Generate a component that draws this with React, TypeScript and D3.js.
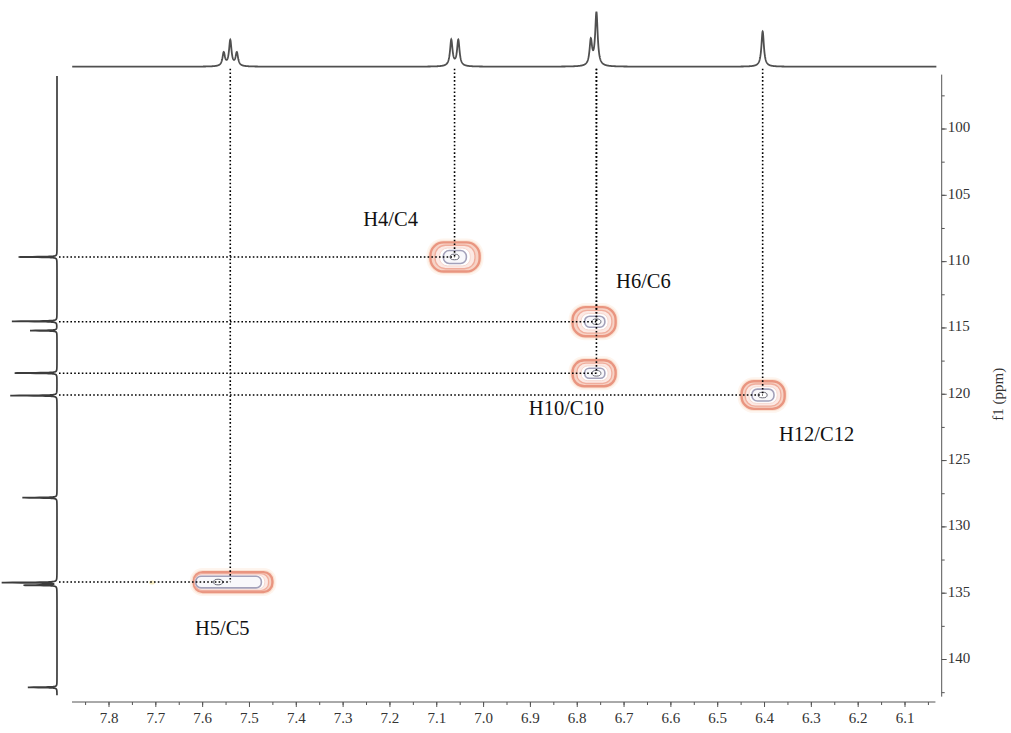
import React from "react";
import * as d3 from "d3";

// ---- axis ticks ----
const xTickValues = [7.8, 7.7, 7.6, 7.5, 7.4, 7.3, 7.2, 7.1, 7.0, 6.9, 6.8, 6.7, 6.6, 6.5, 6.4, 6.3, 6.2, 6.1];
const yTickValues = [100, 105, 110, 115, 120, 125, 130, 135, 140];
const xDomain = [7.879, 6.035];
const yDomain = [95.9, 142.8];

// ---- 1H projection (F2) peak list ----
const hPeakPpm = [7.555, 7.541, 7.527, 7.069, 7.054, 6.771, 6.759, 6.404];
const hPeakHeight = [25, 48, 25, 49, 49, 47, 100, 66];

// ---- 13C projection (F1) peak list ----
const cPeakPpm = [109.65, 114.5, 115.2, 118.4, 120.1, 127.8, 134.2, 134.4, 142.1];
const cPeakHeight = [70, 82, 49, 77, 85, 63, 100, 60, 53];

// ---- HSQC cross peaks ----
const crossLabels = ["H4/C4", "H6/C6", "H10/C10", "H12/C12", "H5/C5"];
const crossH = [7.062, 6.759, 6.759, 6.404, 7.541];
const crossC = [109.65, 114.53, 118.42, 120.06, 134.16];
// contour extents (ppm), outer and innermost level, and contour centre / maximum
const contourCenterH = [7.061, 6.764, 6.764, 6.403, 7.535];
const contourMaxH = [7.062, 6.759, 6.759, 6.404, 7.567];
const outerSpanH = [0.105, 0.092, 0.092, 0.092, 0.168];
const outerSpanC = [2.2, 2.2, 1.96, 2.08, 1.5];
const innerSpanH = [0.049, 0.043, 0.043, 0.047, 0.14];
const innerSpanC = [0.98, 0.83, 0.75, 0.9, 0.88];
const labelDx = [-64, 47, -30, 54, -8];
const labelDy = [-36, -38, 37, 41, 48];

const W = 1011;
const H = 733;

const x = d3.scaleLinear().domain([7.8, 6.1]).range([109, 905]);
const y = d3.scaleLinear().domain([100, 140]).range([129, 659.5]);
const topI = d3.scaleLinear().domain([0, 100]).range([66.7, 13.3]);
const leftI = d3.scaleLinear().domain([0, 100]).range([57, 2]);

const lor = (v: number, c: number, h: number, w: number) => (h * w * w) / ((v - c) * (v - c) + w * w);

function hSpectrum() {
  const wH = 0.0032;
  const grid = d3.range(xDomain[1] - 0.002, xDomain[0], 0.0004).concat(hPeakPpm).sort((a, b) => b - a);
  const pts: [number, number][] = grid.map((p) => {
    let s = 0;
    hPeakPpm.forEach((c, i) => (s += lor(p, c, hPeakHeight[i], wH)));
    return [x(p), topI(s)];
  });
  return d3.line()(pts) || "";
}

function cSpectrum() {
  const wC = 0.02;
  const grid = d3.range(yDomain[0] + 0.1, yDomain[1] - 0.1, 0.005).concat(cPeakPpm).sort((a, b) => a - b);
  const pts: [number, number][] = grid.map((p) => {
    let s = 0;
    cPeakPpm.forEach((c, i) => (s += lor(p, c, cPeakHeight[i], wC)));
    return [leftI(s), y(p)];
  });
  return d3.line()(pts) || "";
}

const levels = [
  { t: 0, fill: "#f7d3c6", stroke: "#e99580", sw: 2.4 },
  { t: 0.35, fill: "#fce9e4", stroke: "#f0ad9c", sw: 1.3 },
  { t: 0.7, fill: "#ffffff", stroke: "#f6d8d0", sw: 1 },
  { t: 1, fill: "#f8f8fb", stroke: "#a3a1ba", sw: 1.6 },
];

function Contour({ i }: { i: number }) {
  const pxPerH = Math.abs(x(0) - x(1));
  const pxPerC = Math.abs(y(1) - y(0));
  const ow = outerSpanH[i] * pxPerH;
  const oh = outerSpanC[i] * pxPerC;
  const iw = innerSpanH[i] * pxPerH;
  const ih = innerSpanC[i] * pxPerC;
  const cx0 = x(contourCenterH[i]);
  const cxm = x(contourMaxH[i]);
  const cy = y(crossC[i]);
  const items = [];
  items.push(
    <rect key="halo2" x={cx0 - ow / 2 - 4} y={cy - oh / 2 - 4} width={ow + 8} height={oh + 8}
      rx={Math.min(ow + 8, oh + 8) * 0.45} fill="#fef5ee" />
  );
  items.push(
    <rect key="halo" x={cx0 - ow / 2 - 2.2} y={cy - oh / 2 - 2.2} width={ow + 4.4} height={oh + 4.4}
      rx={Math.min(ow + 4.4, oh + 4.4) * 0.45} fill="#fbe2d3" />
  );
  levels.forEach((lv, k) => {
    const w = ow + (iw - ow) * lv.t;
    const h = oh + (ih - oh) * lv.t;
    const cx = cx0 + (cxm - cx0) * lv.t * 0.3;
    items.push(
      <rect key={k} x={cx - w / 2} y={cy - h / 2} width={w} height={h} rx={Math.min(w, h) * 0.45}
        fill={lv.fill} stroke={lv.stroke} strokeWidth={lv.sw} />
    );
  });
  items.push(
    <ellipse key="max" cx={cxm} cy={cy} rx={4.5} ry={2.8} fill="#fff" stroke="#6a6a78" strokeWidth={1} />
  );
  return <g>{items}</g>;
}

export default function App() {
  const xMinor = d3.range(7.85, 6.0, -0.05).filter((v) => v <= xDomain[0] && v >= xDomain[1]);
  const yMinor = d3.range(97.5, 142.6, 2.5);
  const axisY = 702;
  const axisX = 941.7;
  const serif = "'Liberation Serif', 'Times New Roman', serif";
  return (
    <svg width={W} height={H} style={{ position: "absolute", left: 0, top: 0, background: "#fff" }}
      fontFamily={serif}>
      <rect width={W} height={H} fill="#fff" />
      {/* faint artefact */}
      <ellipse cx={x(7.708)} cy={y(134.2)} rx={3} ry={2} fill="#f6ecc4" />
      {/* contours */}
      {crossH.map((_, i) => <Contour key={i} i={i} />)}
      {/* dotted guide lines */}
      {crossH.map((h, i) => (
        <g key={"g" + i} stroke="#000" strokeWidth={1.6} strokeDasharray="1.6,2.2" fill="none">
          <line x1={x(h)} x2={x(h)} y1={topI(0) + 2} y2={y(crossC[i])} />
          <line x1={leftI(0) + 2} x2={x(h)} y1={y(crossC[i])} y2={y(crossC[i])} />
        </g>
      ))}
      {/* projections */}
      <path d={hSpectrum()} fill="none" stroke="#505050" strokeWidth={1.8} />
      <path d={cSpectrum()} fill="none" stroke="#3c3c3c" strokeWidth={1.7} />
      {/* labels */}
      {crossLabels.map((t, i) => (
        <text key={t} x={x(crossH[i]) + labelDx[i]} y={y(crossC[i]) + labelDy[i]} textAnchor="middle"
          dominantBaseline="middle" fontSize={20.5} fill="#111">{t}</text>
      ))}
      {/* x axis */}
      <g stroke="#555" strokeWidth={1}>
        <line x1={x(xDomain[0])} x2={x(xDomain[1])} y1={axisY} y2={axisY} />
        {xMinor.map((v) => (
          <line key={v} x1={x(v)} x2={x(v)} y1={axisY} y2={axisY + 3} />
        ))}
        {xTickValues.map((v) => (
          <line key={"M" + v} x1={x(v)} x2={x(v)} y1={axisY} y2={axisY + 5} />
        ))}
      </g>
      {xTickValues.map((v) => (
        <text key={"t" + v} x={x(v)} y={axisY + 18} textAnchor="middle" dominantBaseline="middle"
          fontSize={15} fill="#333">{v.toFixed(1)}</text>
      ))}
      {/* y axis */}
      <g stroke="#555" strokeWidth={1}>
        <line x1={axisX} x2={axisX} y1={y(yDomain[0])} y2={y(yDomain[1])} />
        {yMinor.map((v) => (
          <line key={v} x1={axisX} x2={axisX + 3} y1={y(v)} y2={y(v)} />
        ))}
        {yTickValues.map((v) => (
          <line key={"M" + v} x1={axisX} x2={axisX + 5} y1={y(v)} y2={y(v)} />
        ))}
      </g>
      {yTickValues.map((v) => (
        <text key={"yt" + v} x={axisX + 6} y={y(v)} dominantBaseline="middle" fontSize={15} fill="#333">{v}</text>
      ))}
      <text transform={`translate(1000,${y(120)}) rotate(-90)`} textAnchor="middle" dominantBaseline="middle"
        fontSize={15} fill="#333">f1 (ppm)</text>
    </svg>
  );
}
